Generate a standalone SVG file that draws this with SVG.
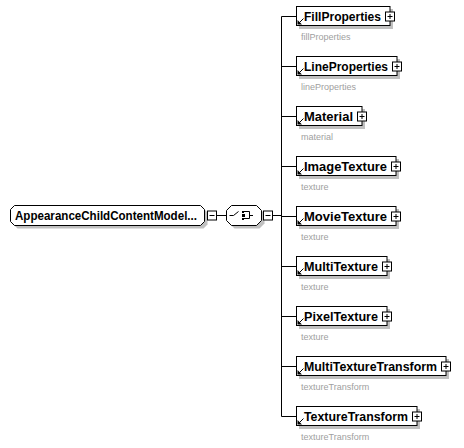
<svg xmlns="http://www.w3.org/2000/svg" width="464" height="448" viewBox="0 0 464 448">
<style>
.bg{fill:#ffffff}
.box{fill:#ffffff;stroke:#000000;stroke-width:1}
.shadow{fill:#c0c0c0;stroke:none}
.line{fill:none;stroke:#000000;stroke-width:1}
.name{font-family:"Liberation Sans",Arial,sans-serif;font-weight:bold;font-size:12px;fill:#000000}
.sub{font-family:"Liberation Sans",Arial,sans-serif;font-size:9px;fill:#a0a0a0}
.ico{fill:#000000;stroke:none}
</style>
<defs>
<g id="plus">
<rect class="box" x="-4.5" y="-4.5" width="9" height="9"/>
<path class="line" d="M-2.5,0 H2.5 M0,-2.5 V2.5"/>
</g>
<g id="minus">
<rect class="box" x="-4.5" y="-4.5" width="9" height="9"/>
<path class="line" d="M-2.5,0 H2.5"/>
</g>
<g id="ref">
<path class="line" d="M7.5,12.5 L3.5,16.5"/>
<polygon class="ico" points="1.5,18.5 1.5,14 6,18.5"/>
</g>
</defs>
<rect class="bg" x="0" y="0" width="464" height="448"/>

<g id="connectors">
<path class="line" d="M216.5,215.5 H226.5"/>
<path class="line" d="M272.5,215.5 H281.5"/>
<path class="line" d="M281.5,16.5 V416.5"/>
<path class="line" d="M281.5,16.5 H296.5 M281.5,66.5 H296.5 M281.5,116.5 H296.5 M281.5,166.5 H296.5 M281.5,216.5 H296.5 M281.5,266.5 H296.5 M281.5,316.5 H296.5 M281.5,366.5 H296.5 M281.5,416.5 H296.5"/>
</g>

<g id="root">
<path class="shadow" d="M17.5,208.5 H203.5 L207.5,212.5 V224.5 L203.5,228.5 H17.5 L13.5,224.5 V212.5 Z"/>
<path class="box" d="M14.5,205.5 H200.5 L204.5,209.5 V221.5 L200.5,225.5 H14.5 L10.5,221.5 V209.5 Z"/>
<text class="name" x="15" y="220" textLength="182" lengthAdjust="spacingAndGlyphs">AppearanceChildContentModel...</text>
<use href="#minus" x="212" y="215.5"/>
</g>

<g id="choice">
<path class="shadow" d="M234.5,208.5 H259.5 L264.5,213.5 V223.5 L259.5,228.5 H234.5 L229.5,223.5 V213.5 Z"/>
<path class="box" d="M231.5,205.5 H256.5 L261.5,210.5 V220.5 L256.5,225.5 H231.5 L226.5,220.5 V210.5 Z"/>
<path class="line" d="M229.5,215.5 H233.5 L238.5,211.5"/>
<rect class="ico" x="242" y="211" width="2" height="2"/>
<rect class="ico" x="242" y="214" width="3" height="3"/>
<rect class="ico" x="242" y="218" width="2" height="2"/>
<path class="line" d="M244,211.5 H249.5 V218.5 H244 M249.5,215.5 H253"/>
<use href="#minus" x="268" y="215.5"/>
</g>

<g id="FillProperties">
<rect class="shadow" x="299" y="9" width="94" height="20"/>
<rect class="box" x="296.5" y="6.5" width="93.5" height="19"/>
<use href="#ref" x="296" y="6"/>
<text class="name" x="304" y="20.5" textLength="77" lengthAdjust="spacingAndGlyphs">FillProperties</text>
<use href="#plus" x="390" y="16.5"/>
<text class="sub" x="301" y="40">fillProperties</text>
</g>

<g id="LineProperties">
<rect class="shadow" x="299" y="59" width="101" height="20"/>
<rect class="box" x="296.5" y="56.5" width="100.5" height="19"/>
<use href="#ref" x="296" y="56"/>
<text class="name" x="304" y="70.5" textLength="84" lengthAdjust="spacingAndGlyphs">LineProperties</text>
<use href="#plus" x="397" y="66.5"/>
<text class="sub" x="301" y="90">lineProperties</text>
</g>

<g id="Material">
<rect class="shadow" x="299" y="109" width="66" height="20"/>
<rect class="box" x="296.5" y="106.5" width="65.5" height="19"/>
<use href="#ref" x="296" y="106"/>
<text class="name" x="304" y="120.5" textLength="49" lengthAdjust="spacingAndGlyphs">Material</text>
<use href="#plus" x="362" y="116.5"/>
<text class="sub" x="301" y="140">material</text>
</g>

<g id="ImageTexture">
<rect class="shadow" x="299" y="159" width="100" height="20"/>
<rect class="box" x="296.5" y="156.5" width="99.5" height="19"/>
<use href="#ref" x="296" y="156"/>
<text class="name" x="304" y="170.5" textLength="83" lengthAdjust="spacingAndGlyphs">ImageTexture</text>
<use href="#plus" x="396" y="166.5"/>
<text class="sub" x="301" y="190">texture</text>
</g>

<g id="MovieTexture">
<rect class="shadow" x="299" y="209" width="100" height="20"/>
<rect class="box" x="296.5" y="206.5" width="99.5" height="19"/>
<use href="#ref" x="296" y="206"/>
<text class="name" x="304" y="220.5" textLength="83" lengthAdjust="spacingAndGlyphs">MovieTexture</text>
<use href="#plus" x="396" y="216.5"/>
<text class="sub" x="301" y="240">texture</text>
</g>

<g id="MultiTexture">
<rect class="shadow" x="299" y="259" width="91" height="20"/>
<rect class="box" x="296.5" y="256.5" width="90.5" height="19"/>
<use href="#ref" x="296" y="256"/>
<text class="name" x="304" y="270.5" textLength="74" lengthAdjust="spacingAndGlyphs">MultiTexture</text>
<use href="#plus" x="387" y="266.5"/>
<text class="sub" x="301" y="290">texture</text>
</g>

<g id="PixelTexture">
<rect class="shadow" x="299" y="309" width="91" height="20"/>
<rect class="box" x="296.5" y="306.5" width="90.5" height="19"/>
<use href="#ref" x="296" y="306"/>
<text class="name" x="304" y="320.5" textLength="74" lengthAdjust="spacingAndGlyphs">PixelTexture</text>
<use href="#plus" x="387" y="316.5"/>
<text class="sub" x="301" y="340">texture</text>
</g>

<g id="MultiTextureTransform">
<rect class="shadow" x="299" y="359" width="150" height="20"/>
<rect class="box" x="296.5" y="356.5" width="149.5" height="19"/>
<use href="#ref" x="296" y="356"/>
<text class="name" x="304" y="370.5" textLength="133" lengthAdjust="spacingAndGlyphs">MultiTextureTransform</text>
<use href="#plus" x="446" y="366.5"/>
<text class="sub" x="301" y="390">textureTransform</text>
</g>

<g id="TextureTransform">
<rect class="shadow" x="299" y="409" width="121" height="20"/>
<rect class="box" x="296.5" y="406.5" width="120.5" height="19"/>
<use href="#ref" x="296" y="406"/>
<text class="name" x="304" y="420.5" textLength="104" lengthAdjust="spacingAndGlyphs">TextureTransform</text>
<use href="#plus" x="417" y="416.5"/>
<text class="sub" x="301" y="440">textureTransform</text>
</g>
</svg>
